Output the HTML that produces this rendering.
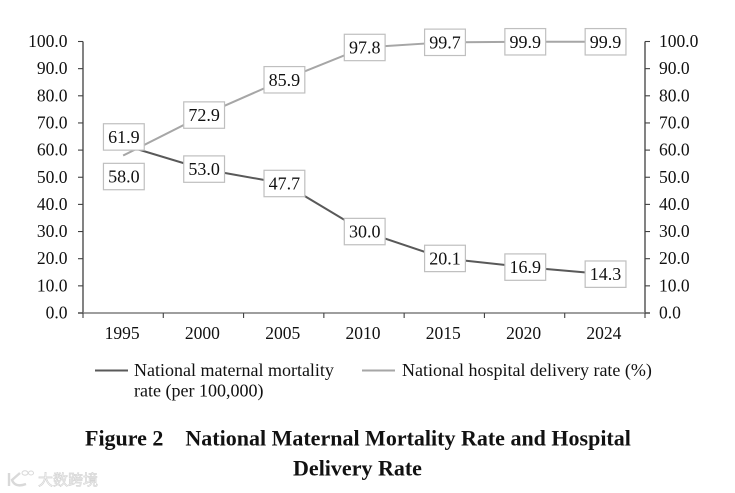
<!DOCTYPE html>
<html lang="en">
<head>
<meta charset="utf-8">
<title>National Maternal Mortality Rate and Hospital Delivery Rate</title>
<style>
html,body{margin:0;padding:0;background:#fff;width:735px;height:493px;overflow:hidden}
svg{display:block;font-family:"Liberation Serif","Noto Serif CJK SC",serif}
text{fill:#111}
</style>
</head>
<body>
<svg id="chart" width="735" height="493" viewBox="0 0 735 493" xmlns="http://www.w3.org/2000/svg">
  <g id="axes"></g>
  <g id="series"></g>
  <g id="labels"></g>
  <g>
    <g>
      <line x1="95" x2="128" y1="370.5" y2="370.5" stroke="#595959" stroke-width="2"/>
      <text x="134" y="376" font-size="18">National maternal mortality</text>
      <text x="134" y="396.5" font-size="18">rate (per 100,000)</text>
    </g>
    <g>
      <line x1="362" x2="395" y1="370.5" y2="370.5" stroke="#a6a6a6" stroke-width="2"/>
      <text x="402" y="376" font-size="18">National hospital delivery rate (%)</text>
    </g>
  </g>
  <text x="85" y="445.5" font-size="22" font-weight="bold" xml:space="preserve" style="white-space:pre">Figure 2    National Maternal Mortality Rate and Hospital</text>
  <text x="357.5" y="475.5" font-size="22" font-weight="bold" text-anchor="middle">Delivery Rate</text>
  <g opacity="0.7">
    <path d="M9 473 V486 M20 473 L12 480 Q15 488 26 484" fill="none" stroke="#c9c9c9" stroke-width="2.4"/>
    <ellipse cx="25" cy="473" rx="3" ry="2.2" fill="none" stroke="#c9c9c9" stroke-width="1"/>
    <ellipse cx="31" cy="473" rx="2.5" ry="2" fill="none" stroke="#c9c9c9" stroke-width="1"/>
    <text x="38" y="485" font-size="15" style="font-family:'Noto Sans CJK SC',sans-serif;fill:#fff;stroke:#c4c4c4;stroke-width:0.7">大数跨境</text>
  </g>
</svg>
<script>
const categories = ['1995', '2000', '2005', '2010', '2015', '2020', '2024'];
const mortalityValues = [61.9, 53.0, 47.7, 30.0, 20.1, 16.9, 14.3];
const deliveryValues = [58.0, 72.9, 85.9, 97.8, 99.7, 99.9, 99.9];
const yTickValues = [0, 10, 20, 30, 40, 50, 60, 70, 80, 90, 100];

const NS = 'http://www.w3.org/2000/svg';
const plotLeft = 83, plotRight = 645, plotBottom = 313, plotTop = 41.5, yMax = 100;
const step = (plotRight - plotLeft) / categories.length;
const xScale = function (i) { return plotLeft + step * (i + 0.5); };
const yScale = function (v) { return plotBottom - (v / yMax) * (plotBottom - plotTop); };

function make(tag, attrs, parent) {
  const el = document.createElementNS(NS, tag);
  Object.keys(attrs).forEach(function (k) { el.setAttribute(k, attrs[k]); });
  parent.appendChild(el);
  return el;
}

const axes = document.getElementById('axes');
const seriesGroup = document.getElementById('series');
const labelsGroup = document.getElementById('labels');

const leftAxis = make('line', {x1: plotLeft, x2: plotLeft, y1: plotTop, y2: plotBottom, stroke: '#404040', 'stroke-width': 1.3}, axes);


const rightAxis = make('line', {x1: plotRight, x2: plotRight, y1: plotTop, y2: plotBottom, stroke: '#404040', 'stroke-width': 1.3}, axes);


const bottomAxis = make('line', {x1: plotLeft - 5, x2: plotRight + 5, y1: plotBottom, y2: plotBottom, stroke: '#7f7f7f', 'stroke-width': 1.6}, axes);



yTickValues.forEach(function (v) {
  const y = yScale(v);
  const leftTick = make('line', {x1: plotLeft - 5, x2: plotLeft, y1: y, y2: y, stroke: '#404040', 'stroke-width': 1.1}, axes);
  
  
  const rightTick = make('line', {x1: plotRight, x2: plotRight + 5, y1: y, y2: y, stroke: '#404040', 'stroke-width': 1.1}, axes);
  
  
  const leftLabel = make('text', {x: 67.5, y: y + 5.5, 'font-size': 17.5, 'text-anchor': 'end'}, axes);
  leftLabel.textContent = v.toFixed(1);
  
  
  const rightLabel = make('text', {x: 659, y: y + 5.5, 'font-size': 17.5}, axes);
  rightLabel.textContent = v.toFixed(1);
  
  
});

for (let i = 0; i <= categories.length; i++) {
  const x = plotLeft + step * i;
  const xTick = make('line', {x1: x, x2: x, y1: plotBottom, y2: plotBottom + 5, stroke: '#404040', 'stroke-width': 1.1}, axes);
  
  
}
categories.forEach(function (c, i) {
  const xLabel = make('text', {x: xScale(i) - 1, y: 339, 'font-size': 17.5, 'text-anchor': 'middle'}, axes);
  xLabel.textContent = c;
  
  
});

function pointsFor(values) {
  return values.map(function (v, i) { return xScale(i) + ',' + yScale(v); }).join(' ');
}

const deliveryLine = make('polyline', {points: pointsFor(deliveryValues), fill: 'none', stroke: '#a6a6a6', 'stroke-width': 2}, seriesGroup);


const mortalityLine = make('polyline', {points: pointsFor(mortalityValues), fill: 'none', stroke: '#595959', 'stroke-width': 2}, seriesGroup);



/* Labels are centred on their point; the first category's two labels are pushed apart. */
function drawLabels(values, firstOffset) {
  values.forEach(function (v, i) {
    const cx = xScale(i) + 0.7;
    const cy = yScale(v) + (i === 0 ? firstOffset : 0);
    const box = make('rect', {x: cx - 20.4, y: cy - 13.2, width: 40.8, height: 26.4, fill: '#fff', stroke: '#bfbfbf', 'stroke-width': 1.2}, labelsGroup);
    
    
    const text = make('text', {x: cx, y: cy + 6, 'font-size': 18, 'text-anchor': 'middle'}, labelsGroup);
    text.textContent = v.toFixed(1);
    
    
  });
}
drawLabels(deliveryValues, 21);
drawLabels(mortalityValues, -8);
</script>
</body>
</html>
